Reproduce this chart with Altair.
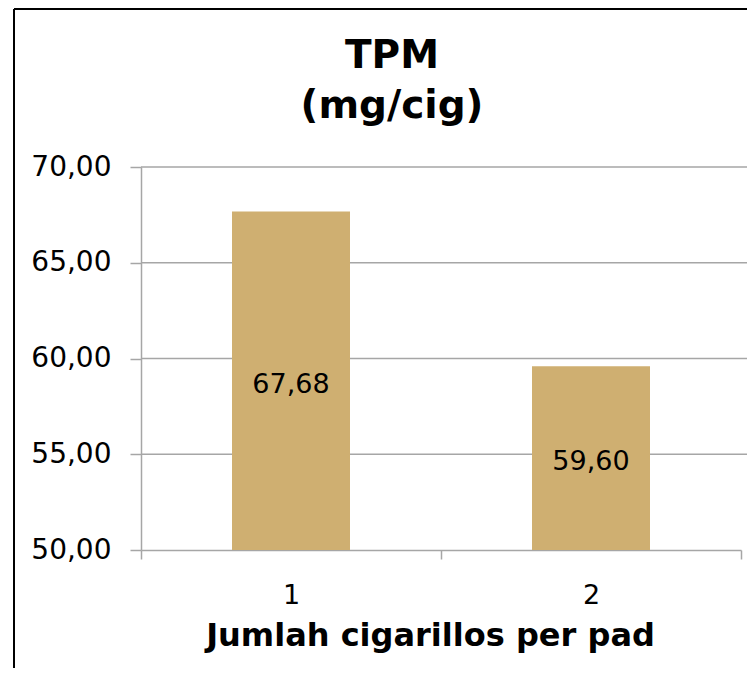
import altair as alt
import pandas as pd

categories = ["1", "2"]
values = [67.68, 59.60]
y_ticks = [50, 55, 60, 65, 70]
grid_values = [55, 60, 65, 70]
title_lines = ["TPM", "(mg/cig)"]
x_title = "Jumlah cigarillos per pad"

df = pd.DataFrame({"cat": categories, "val": values})
grid_df = pd.DataFrame({"g": grid_values})
one = pd.DataFrame({"k": [0]})

FONT = "DejaVu Sans"
GRAY = "#A6A6A6"
W, H = 600, 383
BASE = 50

yscale = alt.Scale(domain=[50, 70], zero=False, nice=False)
xscale = alt.Scale(paddingInner=0, paddingOuter=0)
fmt = "replace(format(datum.value, '.2f'), '.', ',')"

y_axis = alt.Axis(
    values=y_ticks,
    labelExpr=fmt,
    title=None,
    labelFont=FONT,
    labelFontSize=28,
    labelColor="black",
    labelPadding=19,
    tickSize=11,
    tickColor=GRAY,
    tickWidth=1.5,
    domainColor=GRAY,
    domainWidth=1.5,
    grid=False,
)

x_axis = alt.Axis(
    title=x_title,
    titleFont=FONT,
    titleFontSize=32,
    titleFontWeight="bold",
    titleColor="black",
    titleX=289,
    titleY=95,
    titleBaseline="alphabetic",
    titleAlign="center",
    labelFont=FONT,
    labelFontSize=27,
    labelColor="black",
    labelAngle=0,
    labelPadding=23,
    tickBand="extent",
    tickSize=9,
    tickColor=GRAY,
    tickWidth=1.5,
    domainColor=GRAY,
    domainWidth=1.5,
    grid=False,
)

grid = alt.Chart(grid_df).mark_rule(color=GRAY, strokeWidth=1.5).encode(
    y=alt.Y("g:Q", scale=yscale, axis=y_axis),
    x=alt.value(0),
    x2=alt.value(606),
)

bars = alt.Chart(df).mark_bar(color="#CFAF71", size=118).encode(
    x=alt.X("cat:N", scale=xscale, sort=categories, axis=x_axis),
    y=alt.Y("val:Q", scale=yscale, axis=y_axis),
    y2=alt.datum(BASE),
)

labels = (
    alt.Chart(df)
    .transform_calculate(
        mid=f"(datum.val + {BASE}) / 2",
        lab="replace(format(datum.val, '.2f'), '.', ',')",
    )
    .mark_text(font=FONT, fontSize=27, color="black", dy=4)
    .encode(
        x=alt.X("cat:N", sort=categories, scale=xscale, axis=x_axis),
        y=alt.Y("mid:Q", scale=yscale, axis=y_axis),
        text="lab:N",
    )
)

t1 = alt.Chart(one).mark_text(
    text=title_lines[0], font=FONT, fontSize=39, fontWeight="bold",
    baseline="alphabetic", align="center", color="black",
).encode(x=alt.value(251), y=alt.value(-99))
t2 = alt.Chart(one).mark_text(
    text=title_lines[1], font=FONT, fontSize=39, fontWeight="bold",
    baseline="alphabetic", align="center", color="black",
).encode(x=alt.value(251), y=alt.value(-49))

top_border = alt.Chart(one).mark_rule(color="black", strokeWidth=2).encode(
    x=alt.value(-127), x2=alt.value(606), y=alt.value(-158)
)
left_border = alt.Chart(one).mark_rule(color="black", strokeWidth=2).encode(
    x=alt.value(-127), y=alt.value(-158), y2=alt.value(H + 118)
)

chart = (
    alt.layer(grid, bars, labels, t1, t2, top_border, left_border)
    .properties(
        width=W,
        height=H,
        autosize=alt.AutoSizeParams(type="none"),
        padding={"left": 133, "top": 159, "right": 6, "bottom": 118},
        background="white",
    )
    .configure_view(stroke=None)
)

chart.save("out.html", embed_options={"renderer": "svg", "actions": False})
